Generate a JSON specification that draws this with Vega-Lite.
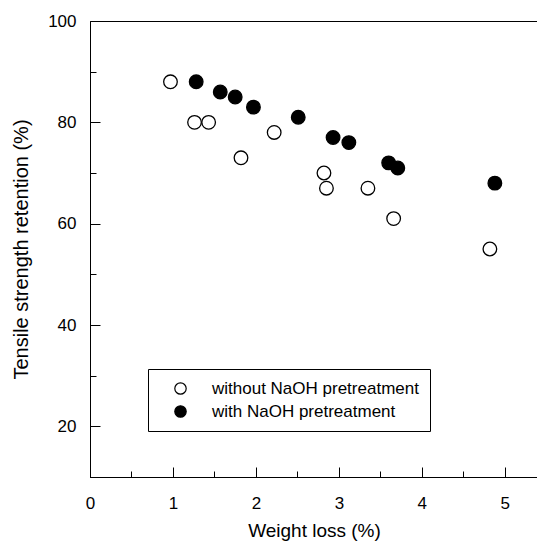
{
  "$schema": "https://vega.github.io/schema/vega-lite/v6.json",
  "autosize": "none",
  "padding": {"left": 90, "top": 21, "right": 0, "bottom": 69},
  "width": 448,
  "height": 456,
  "background": "white",
  "config": {
    "view": {"stroke": "black", "strokeWidth": 1},
    "font": "Liberation Sans",
    "axis": {
      "grid": false,
      "domainColor": "black",
      "tickColor": "black",
      "labelColor": "black",
      "titleColor": "black",
      "labelFont": "Liberation Sans",
      "titleFont": "Liberation Sans",
      "labelFontSize": 17,
      "titleFontSize": 19,
      "titleFontWeight": "normal"
    }
  },
  "data": {
    "values": [
      {"loss": 0.97, "retention": 88, "group": "without NaOH pretreatment"},
      {"loss": 1.26, "retention": 80, "group": "without NaOH pretreatment"},
      {"loss": 1.43, "retention": 80, "group": "without NaOH pretreatment"},
      {"loss": 1.82, "retention": 73, "group": "without NaOH pretreatment"},
      {"loss": 2.22, "retention": 78, "group": "without NaOH pretreatment"},
      {"loss": 2.82, "retention": 70, "group": "without NaOH pretreatment"},
      {"loss": 2.85, "retention": 67, "group": "without NaOH pretreatment"},
      {"loss": 3.35, "retention": 67, "group": "without NaOH pretreatment"},
      {"loss": 3.66, "retention": 61, "group": "without NaOH pretreatment"},
      {"loss": 4.82, "retention": 55, "group": "without NaOH pretreatment"},
      {"loss": 1.28, "retention": 88, "group": "with NaOH pretreatment"},
      {"loss": 1.57, "retention": 86, "group": "with NaOH pretreatment"},
      {"loss": 1.75, "retention": 85, "group": "with NaOH pretreatment"},
      {"loss": 1.97, "retention": 83, "group": "with NaOH pretreatment"},
      {"loss": 2.51, "retention": 81, "group": "with NaOH pretreatment"},
      {"loss": 2.93, "retention": 77, "group": "with NaOH pretreatment"},
      {"loss": 3.12, "retention": 76, "group": "with NaOH pretreatment"},
      {"loss": 3.60, "retention": 72, "group": "with NaOH pretreatment"},
      {"loss": 3.71, "retention": 71, "group": "with NaOH pretreatment"},
      {"loss": 4.88, "retention": 68, "group": "with NaOH pretreatment"}
    ]
  },
  "mark": {"type": "point", "shape": "circle", "filled": false, "stroke": "black", "strokeWidth": 1.3, "size": 185, "opacity": 1},
  "encoding": {
    "x": {
      "field": "loss", "type": "quantitative",
      "scale": {"domain": [0, 5.4], "nice": false, "zero": false},
      "axis": {
        "title": "Weight loss (%)",
        "values": [0, 0.5, 1, 1.5, 2, 2.5, 3, 3.5, 4, 4.5, 5],
        "format": ".0f",
        "labelExpr": "datum.value % 1 === 0 ? datum.label : ''",
        "tickSize": {"condition": {"test": "datum.value % 1 !== 0", "value": -6}, "value": -10},
        "labelPadding": 28,
        "labelFlush": false,
        "titlePadding": 10
      }
    },
    "y": {
      "field": "retention", "type": "quantitative",
      "scale": {"domain": [10, 100], "nice": false, "zero": false},
      "axis": {
        "title": "Tensile strength retention (%)",
        "titleFontSize": 20,
        "values": [10, 20, 30, 40, 50, 60, 70, 80, 90, 100],
        "labelExpr": "datum.value % 20 === 0 ? datum.label : ''",
        "tickSize": {"condition": {"test": "datum.value % 20 !== 0", "value": -6}, "value": -10},
        "labelPadding": 24,
        "labelFlush": false,
        "titlePadding": 16
      }
    },
    "fill": {
      "field": "group", "type": "nominal",
      "scale": {"domain": ["without NaOH pretreatment", "with NaOH pretreatment"], "range": ["white", "black"]},
      "legend": {
        "title": null,
        "orient": "none",
        "legendX": 58,
        "legendY": 348,
        "strokeColor": "black",
        "fillColor": "white",
        "padding": 11,
        "symbolType": "circle",
        "symbolSize": 130,
        "symbolStrokeColor": "black",
        "symbolStrokeWidth": 1.2,
        "symbolOffset": 13,
        "labelOffset": 23,
        "labelFontSize": 17,
        "labelFont": "Liberation Sans",
        "labelColor": "black",
        "rowPadding": 5,
        "labelLimit": 400
      }
    }
  }
}
